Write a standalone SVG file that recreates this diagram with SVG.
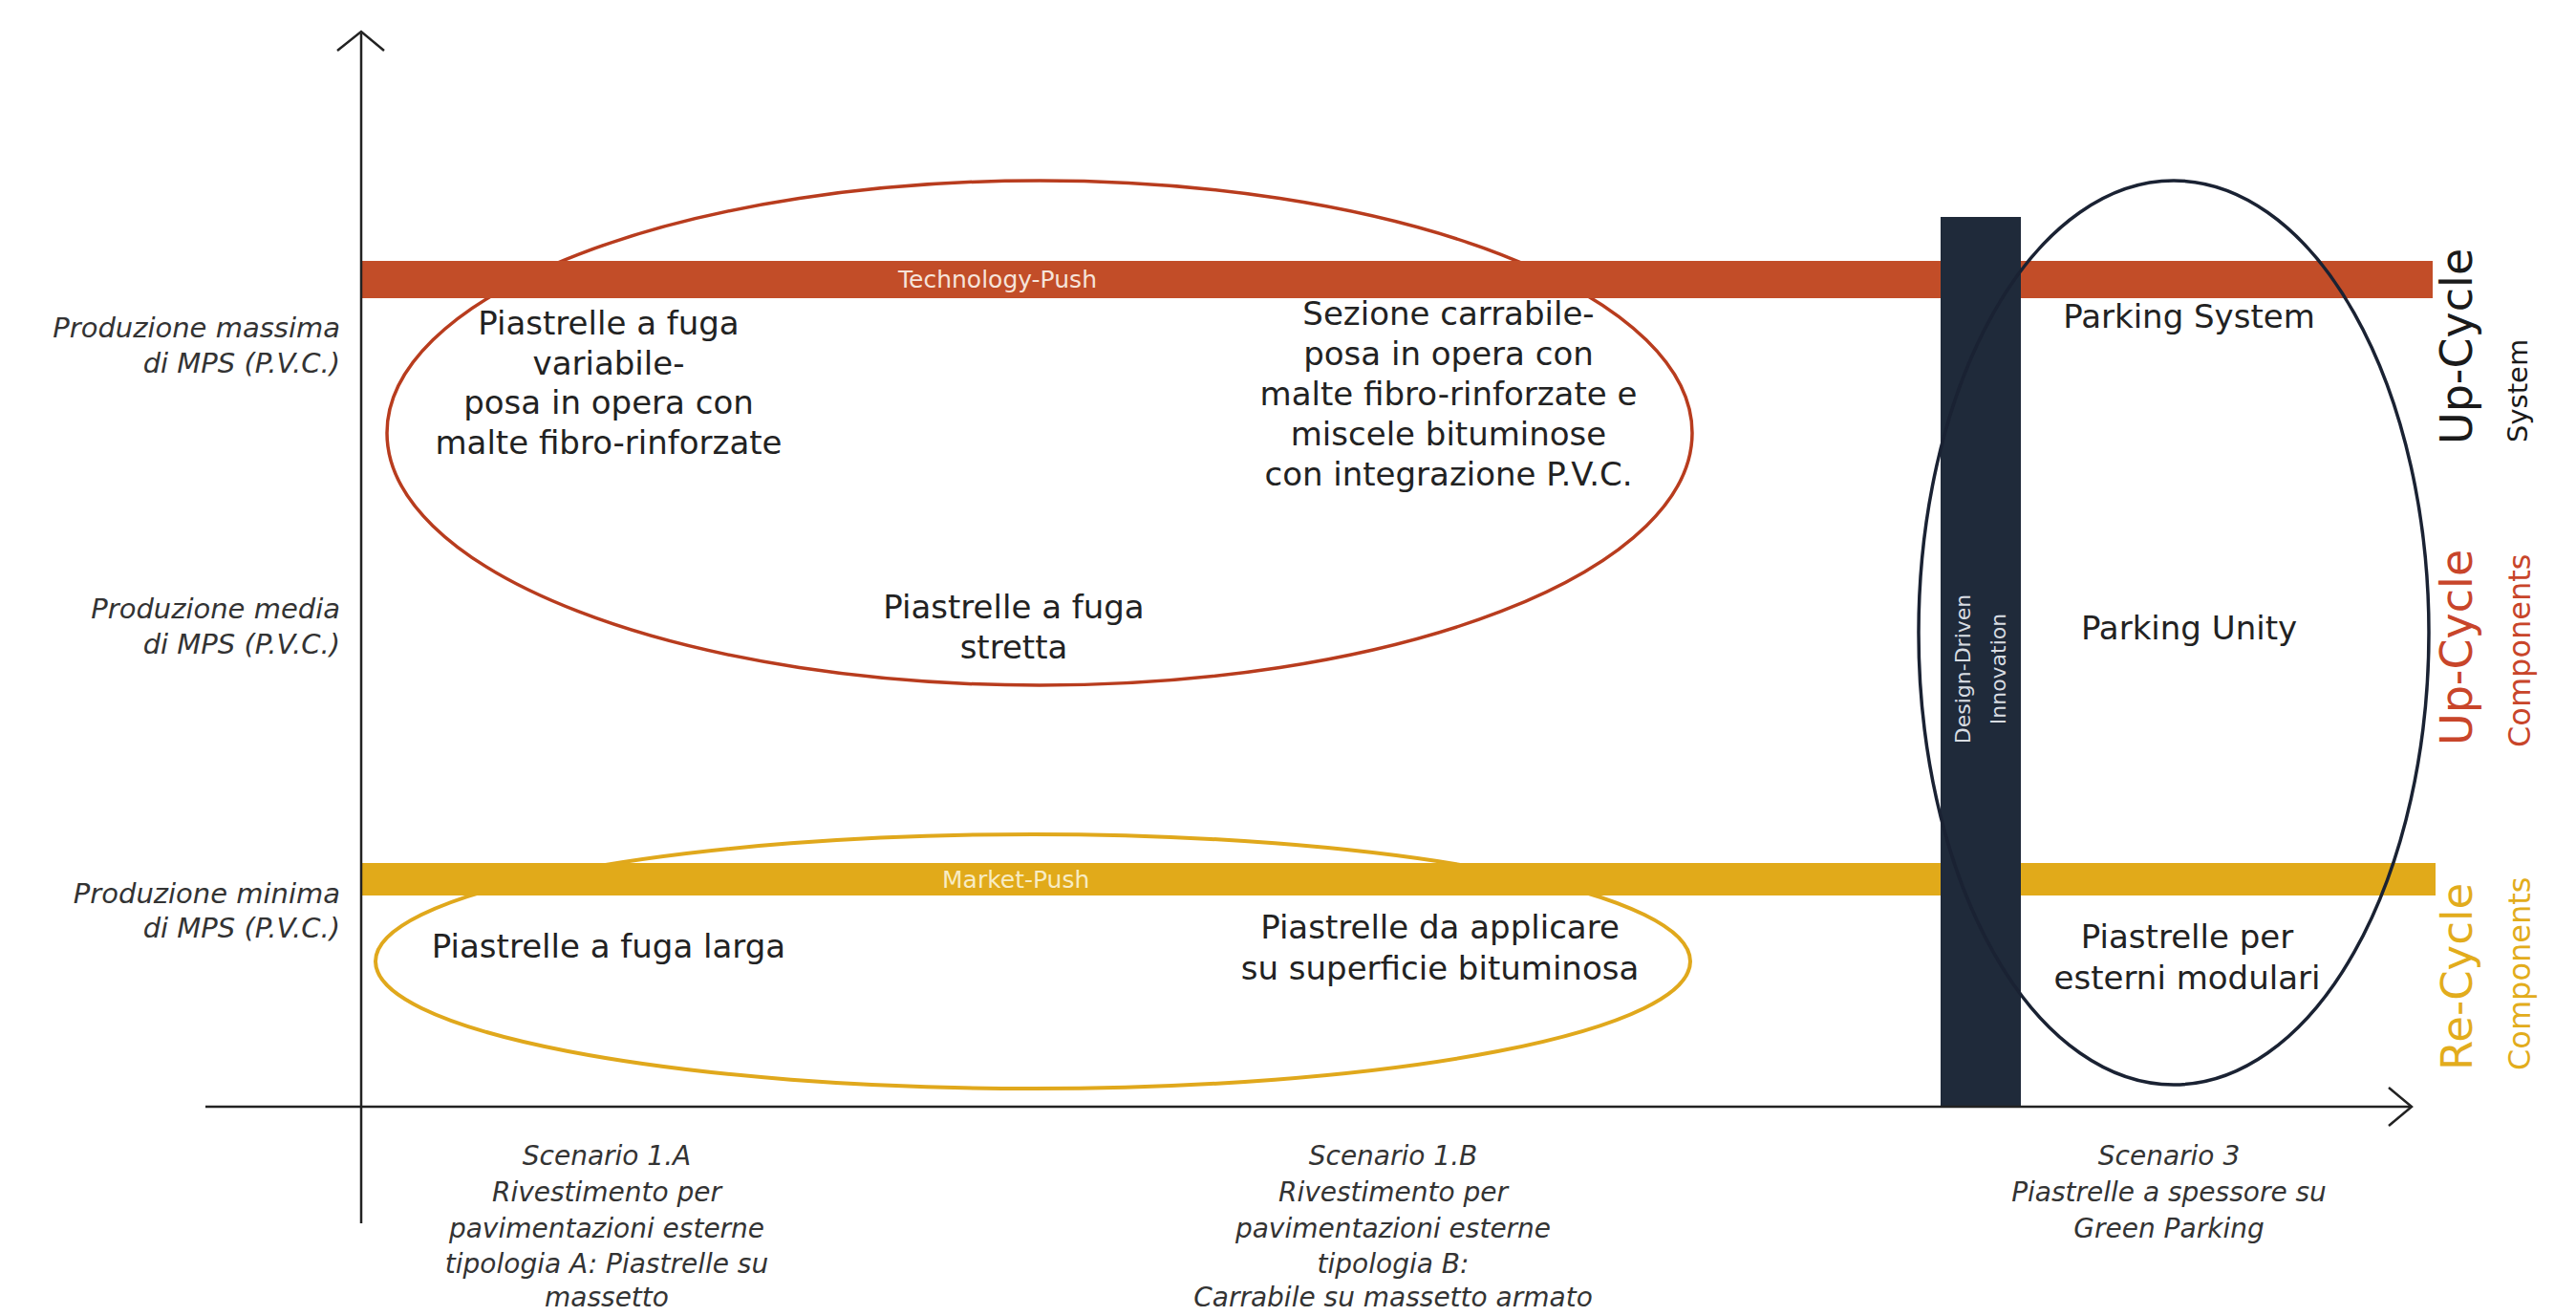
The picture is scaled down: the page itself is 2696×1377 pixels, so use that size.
<svg xmlns="http://www.w3.org/2000/svg" width="2696" height="1377" viewBox="0 0 2696 1377">
<style>
.body{font-family:"DejaVu Sans","Liberation Sans",sans-serif;font-size:34px;fill:#222;text-anchor:middle}
.lbl{font-family:"DejaVu Sans","Liberation Sans",sans-serif;font-style:italic;font-size:29px;fill:#333;text-anchor:end}
.scn{font-family:"DejaVu Sans","Liberation Sans",sans-serif;font-style:italic;font-size:28px;fill:#333;text-anchor:middle}
.band{font-family:"DejaVu Sans","Liberation Sans",sans-serif;font-size:25px}
.rot{font-family:"DejaVu Sans","Liberation Sans",sans-serif}
.axis{stroke:#222;stroke-width:2.5;fill:none}
</style>
<rect width="2696" height="1377" fill="#fff"/>

<g id="ellipse-technology">
<ellipse cx="1088" cy="453" rx="683" ry="264" fill="none" stroke="#b83c1e" stroke-width="3.5"/>
</g>
<g id="ellipse-market">
<ellipse cx="1081" cy="1006" rx="688" ry="133" fill="none" stroke="#e0a81c" stroke-width="4"/>
</g>

<g id="band-technology-push">
<rect x="378" y="273" width="2168" height="39" fill="#c24d28"/>
<text class="band" x="940" y="301" fill="#f6e4da">Technology-Push</text>
</g>
<g id="band-market-push">
<rect x="378" y="903" width="2171" height="34" fill="#e1aa1a"/>
<text class="band" x="986" y="929" fill="#f8ecc4">Market-Push</text>
</g>

<g id="band-design-driven">
<rect x="2031" y="227" width="84" height="931" fill="#1f2a3a"/>
<text class="rot" transform="translate(2062,700) rotate(-90)" font-size="22" fill="#d8dce2" text-anchor="middle">Design-Driven</text>
<text class="rot" transform="translate(2099,700) rotate(-90)" font-size="22" fill="#d8dce2" text-anchor="middle">Innovation</text>
</g>

<g id="ellipse-design">
<ellipse cx="2275" cy="662" rx="267" ry="473" fill="none" stroke="#1a2233" stroke-width="3.5"/>
</g>

<g id="connectors">
<line class="axis" x1="378" y1="35" x2="378" y2="1280"/>
<polyline class="axis" points="353,53 378,33 402,53"/>
<line class="axis" x1="215" y1="1158" x2="2522" y2="1158" stroke-width="3"/>
<polyline class="axis" points="2500,1138 2524,1158 2500,1178"/>
</g>

<g id="label-max">
<text class="lbl" x="356" y="353">Produzione massima</text>
<text class="lbl" x="356" y="390">di MPS (P.V.C.)</text>
</g>
<g id="label-media">
<text class="lbl" x="356" y="647">Produzione media</text>
<text class="lbl" x="356" y="684">di MPS (P.V.C.)</text>
</g>
<g id="label-min">
<text class="lbl" x="356" y="945">Produzione minima</text>
<text class="lbl" x="356" y="981">di MPS (P.V.C.)</text>
</g>

<g id="node-fuga-variabile">
<text class="body" x="637" y="350">Piastrelle a fuga</text>
<text class="body" x="637" y="392">variabile-</text>
<text class="body" x="637" y="433">posa in opera con</text>
<text class="body" x="637" y="475">malte fibro-rinforzate</text>
</g>
<g id="node-sezione-carrabile">
<text class="body" x="1516" y="340">Sezione carrabile-</text>
<text class="body" x="1516" y="382">posa in opera con</text>
<text class="body" x="1516" y="424">malte fibro-rinforzate e</text>
<text class="body" x="1516" y="466">miscele bituminose</text>
<text class="body" x="1516" y="508">con integrazione P.V.C.</text>
</g>
<g id="node-fuga-stretta">
<text class="body" x="1061" y="647">Piastrelle a fuga</text>
<text class="body" x="1061" y="689">stretta</text>
</g>
<g id="node-fuga-larga">
<text class="body" x="637" y="1002">Piastrelle a fuga larga</text>
</g>
<g id="node-superficie-bituminosa">
<text class="body" x="1507" y="982">Piastrelle da applicare</text>
<text class="body" x="1507" y="1025">su superficie bituminosa</text>
</g>
<g id="node-parking-system">
<text class="body" x="2291" y="343">Parking System</text>
</g>
<g id="node-parking-unity">
<text class="body" x="2291" y="669">Parking Unity</text>
</g>
<g id="node-esterni-modulari">
<text class="body" x="2289" y="992">Piastrelle per</text>
<text class="body" x="2289" y="1035">esterni modulari</text>
</g>

<g id="scenario-1a">
<text class="scn" x="635" y="1219">Scenario 1.A</text>
<text class="scn" x="635" y="1257">Rivestimento per</text>
<text class="scn" x="635" y="1295">pavimentazioni esterne</text>
<text class="scn" x="635" y="1332">tipologia A: Piastrelle su</text>
<text class="scn" x="635" y="1367">massetto</text>
</g>
<g id="scenario-1b">
<text class="scn" x="1458" y="1219">Scenario 1.B</text>
<text class="scn" x="1458" y="1257">Rivestimento per</text>
<text class="scn" x="1458" y="1295">pavimentazioni esterne</text>
<text class="scn" x="1458" y="1332">tipologia B:</text>
<text class="scn" x="1458" y="1367">Carrabile su massetto armato</text>
</g>
<g id="scenario-3">
<text class="scn" x="2270" y="1219">Scenario 3</text>
<text class="scn" x="2270" y="1257">Piastrelle a spessore su</text>
<text class="scn" x="2270" y="1295">Green Parking</text>
</g>

<g id="tag-upcycle-system">
<text class="rot" transform="translate(2587,465) rotate(-90)" font-size="46" fill="#1a1a1a">Up-Cycle</text>
<text class="rot" transform="translate(2645,463) rotate(-90)" font-size="29" fill="#1a1a1a">System</text>
</g>
<g id="tag-upcycle-components">
<text class="rot" transform="translate(2587,780) rotate(-90)" font-size="46" fill="#c8452a">Up-Cycle</text>
<text class="rot" transform="translate(2648,782) rotate(-90)" font-size="32" fill="#c8452a">Components</text>
</g>
<g id="tag-recycle-components">
<text class="rot" transform="translate(2587,1120) rotate(-90)" font-size="45" fill="#e2ac1c">Re-Cycle</text>
<text class="rot" transform="translate(2648,1120) rotate(-90)" font-size="32" fill="#e2ac1c">Components</text>
</g>
</svg>
